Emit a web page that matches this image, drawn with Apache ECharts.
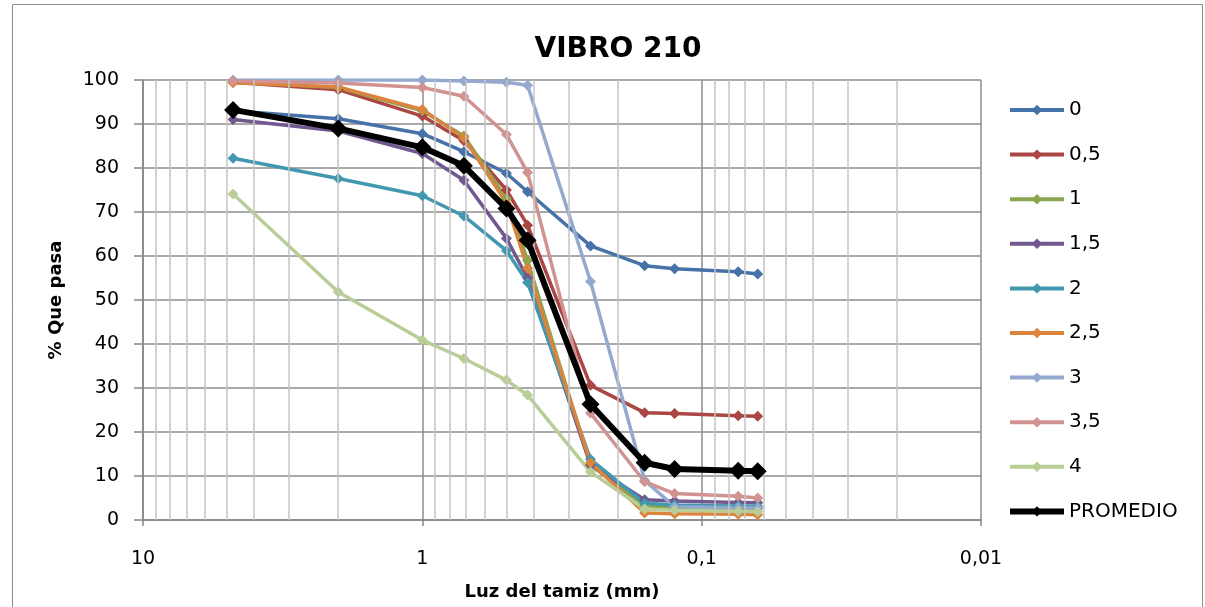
<!DOCTYPE html>
<html>
<head>
<meta charset="utf-8">
<script src="https://cdn.jsdelivr.net/npm/echarts@6/dist/echarts.min.js"></script>
<style>
  html, body { margin: 0; padding: 0; background: #ffffff; }
  #chart { width: 1205px; height: 607px; }
</style>
</head>
<body>
<div id="chart"></div>
<script>
// Sieve openings (mm)
const sieves = [4.76, 2, 1, 0.71, 0.5, 0.42, 0.25, 0.16, 0.125, 0.074, 0.063];

// Percent passing for each vibration time
const names = ['0', '0,5', '1', '1,5', '2', '2,5', '3', '3,5', '4', 'PROMEDIO'];
const pass0   = [93.0, 91.2, 87.8, 83.7, 78.8, 74.6, 62.3, 57.8, 57.1, 56.4, 55.9];
const pass05  = [99.5, 97.8, 91.8, 86.2, 75.0, 67.0, 30.6, 24.4, 24.2, 23.7, 23.6];
const pass1   = [99.6, 98.3, 93.0, 87.3, 73.0, 59.0, 12.5, 3.3, 2.7, 2.6, 2.5];
const pass15  = [91.0, 88.4, 83.3, 77.2, 64.0, 55.0, 12.5, 4.6, 4.3, 4.0, 3.9];
const pass2   = [82.2, 77.6, 73.7, 69.1, 61.2, 54.0, 13.8, 3.8, 3.4, 3.2, 3.1];
const pass25  = [99.4, 98.4, 93.3, 86.9, 72.0, 57.2, 13.0, 1.6, 1.4, 1.3, 1.2];
const pass3   = [100, 100, 100, 99.8, 99.5, 98.8, 54.2, 9.0, 3.0, 2.8, 2.7];
const pass35  = [99.8, 99.3, 98.3, 96.3, 87.6, 79.0, 24.3, 8.7, 6.0, 5.4, 5.0];
const pass4   = [74.1, 51.8, 40.9, 36.7, 31.8, 28.4, 10.9, 2.5, 2.2, 2.0, 1.9];
const average = [93.2, 89.0, 84.7, 80.5, 70.8, 63.6, 26.3, 13.0, 11.6, 11.2, 11.1];

const allSeries = [pass0, pass05, pass1, pass15, pass2, pass25, pass3, pass35, pass4, average];
const colors = ['#4572A7', '#AA4643', '#89A54E', '#71588F', '#4198AF', '#DB843D', '#93A9CF', '#D19392', '#B9CD96', '#000000'];

// Minor log gridlines: 2..9 within each decade
const minorGrid = [];
[0.01, 0.1, 1].forEach(function (d) {
  for (let k = 2; k <= 9; k++) minorGrid.push(+(d * k).toFixed(4));
});

const FONT = '"DejaVu Sans", sans-serif';

const chart = echarts.init(document.getElementById('chart'), null, { renderer: 'canvas' });

const series = allSeries.map(function (vals, i) {
  const isAvg = i === allSeries.length - 1;
  return {
    name: names[i],
    type: 'line',
    data: sieves.map(function (s, j) { return [s, vals[j]]; }),
    symbol: 'diamond',
    symbolSize: isAvg ? 18 : 11,
    color: colors[i],
    lineStyle: { width: isAvg ? 6 : 3.5, color: colors[i] },
    itemStyle: { color: colors[i] },
    z: isAvg ? 10 : 3,
    animation: false,
    emphasis: { disabled: true }
  };
});

series.unshift({
  name: '__minor',
  type: 'line',
  data: [],
  silent: true,
  z: 1,
  markLine: {
    silent: true,
    symbol: 'none',
    animation: false,
    label: { show: false },
    lineStyle: { color: '#c4c4c4', width: 1.5, type: 'solid' },
    data: minorGrid.map(function (v) { return { xAxis: v }; })
  }
});

chart.setOption({
  animation: false,
  backgroundColor: '#ffffff',
  title: {
    text: 'VIBRO 210',
    left: 613,
    top: 31,
    textAlign: 'center',
    textStyle: { fontFamily: FONT, fontWeight: 'bold', fontSize: 28, color: '#000' }
  },
  graphic: [{
    type: 'rect',
    shape: { x: 12.5, y: 4.5, width: 1190, height: 640 },
    style: { fill: 'none', stroke: '#8a8a8a', lineWidth: 1 },
    silent: true,
    z: -10
  }],
  legend: {
    data: names.map(function (n, i) {
      const isAvg = i === names.length - 1;
      return { name: n, lineStyle: { width: isAvg ? 6 : 4 } };
    }),
    orient: 'vertical',
    left: 1002,
    top: 95,
    itemWidth: 54,
    itemHeight: 13,
    itemGap: 24.6,
    textStyle: { fontFamily: FONT, fontSize: 20, color: '#000', padding: [0, 0, 0, 0] }
  },
  grid: { left: 143, right: 224, top: 80, bottom: 87, containLabel: false },
  xAxis: {
    type: 'log',
    logBase: 10,
    min: 0.01,
    max: 10,
    inverse: true,
    name: 'Luz del tamiz (mm)',
    nameLocation: 'middle',
    nameGap: 63,
    nameTextStyle: { fontFamily: FONT, fontWeight: 'bold', fontSize: 18, color: '#000' },
    axisLine: { lineStyle: { color: '#868686', width: 1.5 } },
    axisTick: { show: true, length: 6, lineStyle: { color: '#868686', width: 1.5 } },
    axisLabel: {
      margin: 30,
      fontFamily: FONT, fontSize: 19, color: '#000',
      formatter: function (v) { return String(v).replace('.', ','); }
    },
    splitLine: { show: true, lineStyle: { color: '#8c8c8c', width: 1.5 } }
  },
  yAxis: {
    type: 'value',
    min: 0,
    max: 100,
    interval: 10,
    name: '% Que pasa',
    nameLocation: 'middle',
    nameGap: 78,
    nameRotate: 90,
    nameTextStyle: { fontFamily: FONT, fontWeight: 'bold', fontSize: 18, color: '#000' },
    axisLine: { show: true, lineStyle: { color: '#868686', width: 1.5 } },
    axisTick: { show: true, length: 9, lineStyle: { color: '#868686', width: 1.5 } },
    axisLabel: { margin: 24, fontFamily: FONT, fontSize: 19, color: '#000' },
    splitLine: { show: true, lineStyle: { color: '#8c8c8c', width: 1.5 } }
  },
  series: series
});
</script>
</body>
</html>
